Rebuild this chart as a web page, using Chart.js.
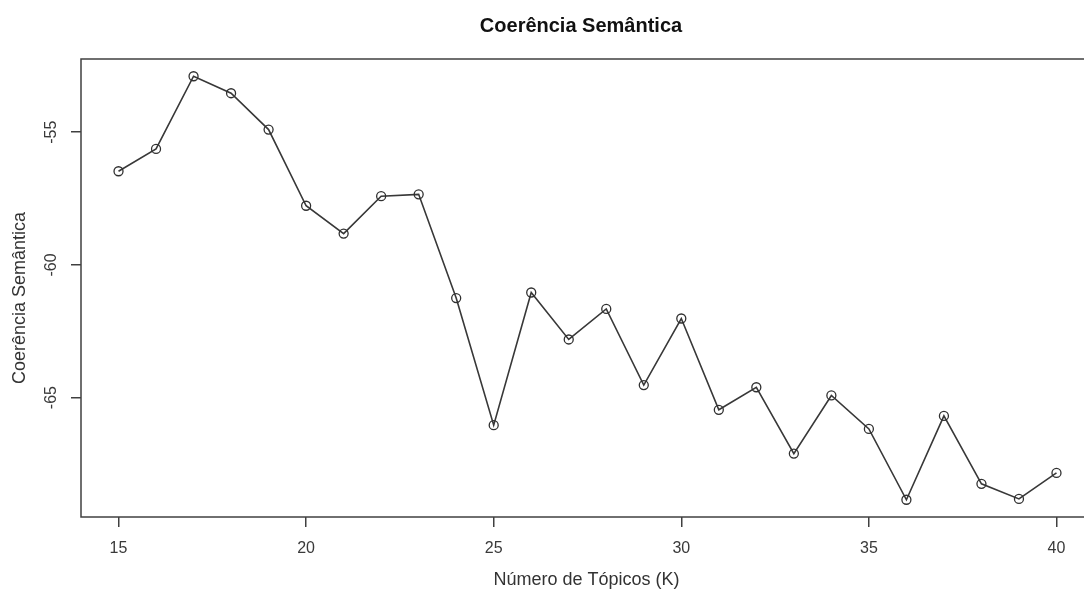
<!DOCTYPE html>
<html>
<head>
<meta charset="utf-8">
<script src="https://cdn.jsdelivr.net/npm/chart.js@4.4.1/dist/chart.umd.min.js"></script>
<style>
  html, body { margin: 0; padding: 0; background: #ffffff; overflow: hidden; width: 1084px; height: 589px; }
  #wrap { position: absolute; left: 0; top: 0; width: 1100px; height: 589px; }
</style>
</head>
<body>
<div id="wrap"><canvas id="c" width="1100" height="589"></canvas></div>
<script>
// ---- Data ----
const topicCounts = [15, 16, 17, 18, 19, 20, 21, 22, 23, 24, 25, 26, 27, 28, 29, 30, 31, 32, 33, 34, 35, 36, 37, 38, 39, 40];
const coherence = [-56.47, -55.63, -52.89, -53.53, -54.90, -57.77, -58.82, -57.41, -57.34, -61.25,
                   -66.04, -61.04, -62.81, -61.66, -64.53, -62.02, -65.46, -64.61, -67.11, -64.92,
                   -66.18, -68.85, -65.69, -68.25, -68.82, -67.84];
const xTickValues = [15, 20, 25, 30, 35, 40];
const yTickValues = [-55, -60, -65];
const chartTitle = "Coerência Semântica";
const xAxisTitle = "Número de Tópicos (K)";
const yAxisTitle = "Coerência Semântica";

const points = topicCounts.map((k, i) => ({ x: k, y: coherence[i] }));

const FONT = "'Liberation Sans', Arial, Helvetica, sans-serif";

const rPlotPlugin = {
  id: 'rPlot',
  afterDraw(chart) {
    const ctx = chart.ctx;
    const a = chart.chartArea;
    const ys = chart.scales.y;
    ctx.save();
    // box
    ctx.strokeStyle = '#404040';
    ctx.lineWidth = 1.5;
    ctx.strokeRect(a.left, a.top, a.right - a.left, a.bottom - a.top);
    // title
    ctx.fillStyle = '#111111';
    ctx.font = "bold 20px " + FONT;
    ctx.textAlign = 'center';
    ctx.textBaseline = 'middle';
    ctx.fillText(chartTitle, 581, 26);
    // x axis title
    ctx.fillStyle = '#333333';
    ctx.font = "18px " + FONT;
    ctx.fillText(xAxisTitle, (a.left + a.right) / 2 - 1, 580);
    // y axis title
    ctx.save();
    ctx.translate(20, 298);
    ctx.rotate(-Math.PI / 2);
    ctx.fillText(yAxisTitle, 0, 0);
    ctx.restore();
    // y tick labels (rotated, as in R)
    ctx.fillStyle = '#3a3a3a';
    ctx.font = "16px " + FONT;
    yTickValues.forEach(v => {
      const py = ys.getPixelForValue(v);
      ctx.save();
      ctx.translate(52, py);
      ctx.rotate(-Math.PI / 2);
      ctx.fillText(String(v), 0, 0);
      ctx.restore();
    });
    ctx.restore();
  }
};

new Chart(document.getElementById('c'), {
  type: 'line',
  data: {
    datasets: [{
      data: points,
      borderColor: '#383838',
      borderWidth: 1.6,
      tension: 0,
      fill: false,
      pointStyle: 'circle',
      pointRadius: 4.5,
      pointBorderWidth: 1.3,
      pointBackgroundColor: 'rgba(255,255,255,0)',
      pointBorderColor: '#303030'
    }]
  },
  options: {
    responsive: false,
    animation: false,
    devicePixelRatio: 1,
    layout: { padding: { top: 59, right: 6, left: 0, bottom: 0 } },
    plugins: {
      legend: { display: false },
      title: { display: false },
      tooltip: { enabled: false }
    },
    scales: {
      x: {
        type: 'linear',
        min: 14,
        max: 41,
        afterBuildTicks(scale) { scale.ticks = xTickValues.map(v => ({ value: v })); },
        afterFit(scale) { scale.height = 72; },
        border: { display: false },
        grid: { display: true, drawOnChartArea: false, drawTicks: true, tickLength: 10, color: '#404040', lineWidth: 1.5 },
        ticks: { color: '#3a3a3a', font: { family: FONT, size: 16 }, padding: 12, maxRotation: 0, autoSkip: false }
      },
      y: {
        type: 'linear',
        min: -69.5,
        max: -52.24,
        afterBuildTicks(scale) { scale.ticks = yTickValues.map(v => ({ value: v })); },
        afterFit(scale) { scale.width = 81; },
        border: { display: false },
        grid: { display: true, drawOnChartArea: false, drawTicks: true, tickLength: 10, color: '#404040', lineWidth: 1.5 },
        ticks: { display: false }
      }
    }
  },
  plugins: [rPlotPlugin]
});
</script>
</body>
</html>
